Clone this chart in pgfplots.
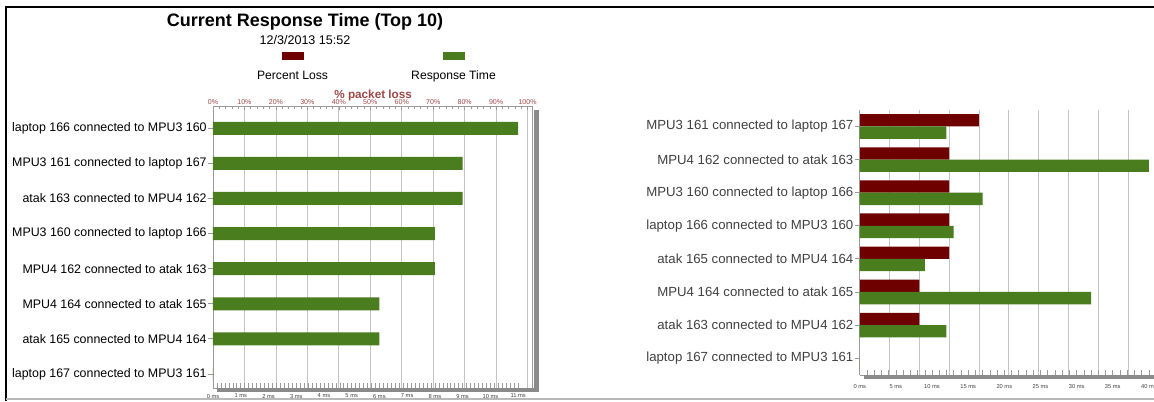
\documentclass[border=0pt]{standalone}
\usepackage{fontspec}
\setmainfont{Liberation Sans}
\usepackage{pgfplots}
\pgfplotsset{compat=1.18}
\definecolor{lossred}{HTML}{6E0000}
\definecolor{resgreen}{HTML}{4A7D1E}
\definecolor{gridgray}{HTML}{C4C4C4}
\definecolor{axgray}{HTML}{9A9A9A}
\definecolor{shadowgray}{HTML}{8A8A8A}
\definecolor{pctred}{HTML}{A04848}
\begin{document}
\begin{tikzpicture}[x=0.75pt,y=0.75pt]
\useasboundingbox (0,0) rectangle (1154,401);
% frame
\draw[black, line width=1.4pt] (6,0) -- (6,394) -- (1154,394);
\draw[gray!55, line width=0.8pt] (6,2) -- (1154,2);
% titles and legend of the left chart
\node[font=\bfseries\fontsize{13.5}{15}\selectfont, anchor=base] at (305,374.5) {Current Response Time (Top 10)};
\node[font=\fontsize{9.4}{11}\selectfont, anchor=base] at (305,357) {12/3/2013 15:52};
\fill[lossred] (282,349.2) rectangle (303.5,341);
\fill[resgreen] (443,349.2) rectangle (464.5,341);
\node[font=\fontsize{9.1}{10}\selectfont, anchor=base] at (292.5,322) {Percent Loss};
\node[font=\fontsize{9.1}{10}\selectfont, anchor=base] at (453.5,322) {Response Time};

% ---------------- LEFT CHART ----------------
% percent axis (top) with grid
\begin{axis}[
  at={(159.75pt,221.25pt)}, anchor=north west,
  scale only axis, width=239.25pt, height=211.5pt,
  xmin=0, xmax=101.4, ymin=-0.635, ymax=7.4, y dir=reverse,
  axis x line*=top, axis y line=none,
  xtick={0,10,...,100},
  xticklabels={0\%,10\%,20\%,30\%,40\%,50\%,60\%,70\%,80\%,90\%,100\%},
  minor x tick num=4,
  tick align=inside, major tick length=3pt, minor tick length=2.6pt,
  xmajorgrids, grid style={gridgray, line width=0.6pt},
  axis line style={axgray, line width=0.6pt},
  tick style={axgray, line width=0.45pt},
  xticklabel style={font=\fontsize{5.3}{6}\selectfont, text=pctred, inner sep=0.6pt},
  xlabel={\% packet loss},
  xlabel style={font=\bfseries\fontsize{8.8}{10}\selectfont, text=pctred, inner sep=0pt,
    at={(axis description cs:0.502,1)}, anchor=base, yshift=5.6pt},
]
\addplot[draw=none] coordinates {(0,0)};
\end{axis}
% response-time axis (bottom) with bars and categories
\begin{axis}[
  at={(159.75pt,221.25pt)}, anchor=north west,
  scale only axis, width=239.25pt, height=211.5pt,
  xmin=0, xmax=11.5, ymin=-0.635, ymax=7.4, y dir=reverse,
  axis x line*=bottom, axis y line*=left,
  xtick={0,...,11},
  xticklabels={0 ms,1 ms,2 ms,3 ms,4 ms,5 ms,6 ms,7 ms,8 ms,9 ms,10 ms,11 ms},
  minor x tick num=6,
  xtick align=inside, ytick align=outside,
  major tick length=3.6pt, minor tick length=3.6pt,
  ytick={0,...,7},
  yticklabels={laptop 166 connected to MPU3 160, MPU3 161 connected to laptop 167,
    atak 163 connected to MPU4 162, MPU3 160 connected to laptop 166,
    MPU4 162 connected to atak 163, MPU4 164 connected to atak 165,
    atak 165 connected to MPU4 164, laptop 167 connected to MPU3 161},
  axis line style={axgray, line width=0.6pt},
  tick style={axgray, line width=0.45pt},
  ytick style={axgray, line width=0.6pt},
  minor ytick={},
  xticklabel style={font=\fontsize{4.3}{5}\selectfont, text=black!75, inner sep=0pt, yshift=-4.3pt},
  yticklabel style={font=\fontsize{9.3}{10}\selectfont, text=black, inner sep=1pt},
]
\addplot[xbar, bar width=0.37, fill=resgreen, draw=none]
  coordinates {(11,0) (9,1) (9,2) (8,3) (8,4) (6,5) (6,6) (0,7)};
\end{axis}
\draw[axgray, line width=0.6pt] (532,295) -- (532,13);
\fill[shadowgray] (534,291) rectangle (538.5,9);
\fill[shadowgray] (217,13) rectangle (538.5,9);

% ---------------- RIGHT CHART ----------------
\begin{axis}[
  at={(644.8pt,218.25pt)}, anchor=north west,
  scale only axis, width=226.5pt, height=198.75pt,
  xmin=0, xmax=101.3, ymin=-0.498, ymax=7.508, y dir=reverse,
  axis x line*=top, axis y line=none,
  x axis line style={draw=none},
  xtick={10,20,...,100}, xticklabels={},
  major tick length=0pt,
  xmajorgrids, grid style={gridgray, line width=0.6pt},
]
\addplot[xbar, bar width=0.372, bar shift=-0.186, fill=lossred, draw=none]
  coordinates {(40,0) (30,1) (30,2) (30,3) (30,4) (20,5) (20,6) (0,7)};
\end{axis}
\begin{axis}[
  at={(644.8pt,218.25pt)}, anchor=north west,
  scale only axis, width=226.5pt, height=198.75pt,
  xmin=0, xmax=41.77, ymin=-0.498, ymax=7.508, y dir=reverse,
  axis x line*=bottom, axis y line*=left,
  xtick={0,5,...,40},
  xticklabels={0 ms,5 ms,10 ms,15 ms,20 ms,25 ms,30 ms,35 ms,40 ms},
  minor x tick num=4,
  xtick align=inside, ytick align=outside,
  major tick length=3.6pt, minor tick length=3.6pt,
  ytick={0,...,7},
  yticklabels={MPU3 161 connected to laptop 167, MPU4 162 connected to atak 163,
    MPU3 160 connected to laptop 166, laptop 166 connected to MPU3 160,
    atak 165 connected to MPU4 164, MPU4 164 connected to atak 165,
    atak 163 connected to MPU4 162, laptop 167 connected to MPU3 161},
  axis line style={axgray, line width=0.6pt},
  tick style={axgray, line width=0.45pt},
  ytick style={axgray, line width=0.6pt},
  xticklabel style={font=\fontsize{4.3}{5}\selectfont, text=black!75, inner sep=0pt, yshift=-7pt},
  yticklabel style={font=\fontsize{9.9}{11}\selectfont, text=black!75, inner sep=1pt},
]
\addplot[xbar, bar width=0.372, bar shift=0.186, fill=resgreen, draw=none]
  coordinates {(12,0) (40,1) (17,2) (13,3) (9,4) (32,5) (12,6) (0,7)};
\end{axis}
\fill[shadowgray] (864,26) rectangle (1160,22);
\end{tikzpicture}
\end{document}
